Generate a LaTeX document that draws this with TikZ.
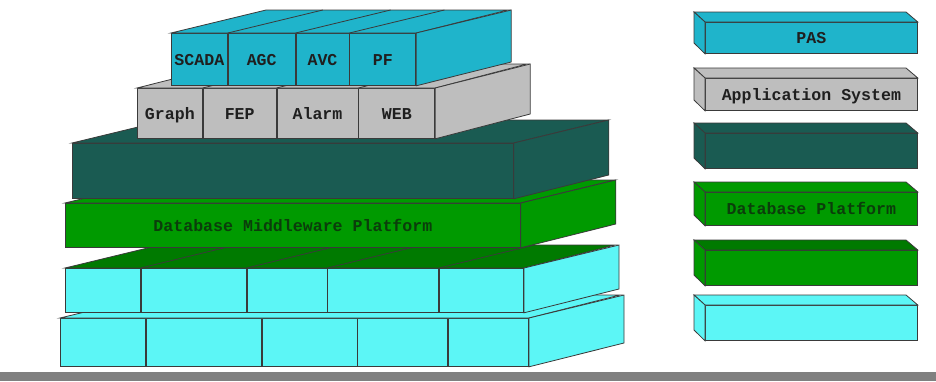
\documentclass[tikz,border=0pt]{standalone}
\usepackage{fontspec}
\setmonofont{Liberation Mono}
\definecolor{appcyan}{HTML}{1FB4CB}
\definecolor{basegray}{HTML}{BEBEBE}
\definecolor{svcdark}{HTML}{1A5B52}
\definecolor{dbgreen}{HTML}{009A00}
\definecolor{dbdark}{HTML}{007A00}
\definecolor{lowcyan}{HTML}{5CF6F6}
\definecolor{edgegray}{HTML}{3A3A3A}
\definecolor{stripgray}{HTML}{808080}
\definecolor{dbtext}{HTML}{0B3D0B}
\tikzset{
  face/.style={draw=edgegray, line width=0.4pt},
  frontbox/.style={face, anchor=north west, inner sep=0pt,
    text height=6.6pt, text depth=0.6pt,
    font=\ttfamily\bfseries\fontsize{8.3}{10}\selectfont, text=black!88},
  edge/.style={draw=edgegray, line width=0.4pt}
}
\begin{document}
\begin{tikzpicture}[x=0.5pt, y=-0.5pt]
                \useasboundingbox (0,0) rectangle (936,381);
                \fill[stripgray] (0,372) rectangle (936,381);

                % lowest row
                \node[frontbox, fill=lowcyan, minimum width=42.5pt, minimum height=24pt] (lowb1) at (60,318) {};
                \node[frontbox, fill=lowcyan, minimum width=57.5pt, minimum height=24pt] (lowb2) at (lowb1.north east) {};
                \node[frontbox, fill=lowcyan, minimum width=47.5pt, minimum height=24pt] (lowb3) at (lowb2.north east) {};
                \node[frontbox, fill=lowcyan, minimum width=45pt, minimum height=24pt] (lowb4) at (lowb3.north east) {};
                \node[frontbox, fill=lowcyan, minimum width=40pt, minimum height=24pt] (lowb5) at (lowb4.north east) {};
                \draw[face, fill=lowcyan] (lowb1.north west) -- ++(95,-23) -- ++(465,0) -- (lowb5.north east) -- cycle;
                \draw[face, fill=lowcyan] (lowb5.north east) -- ++(95,-23) -- ++(0,48) -- (lowb5.south east) -- cycle;

                \node[frontbox, fill=lowcyan, minimum width=37.5pt, minimum height=22pt] (lowa1) at (65,268) {};
                \node[frontbox, fill=lowcyan, minimum width=52.5pt, minimum height=22pt] (lowa2) at (lowa1.north east) {};
                \node[frontbox, fill=lowcyan, minimum width=40pt, minimum height=22pt] (lowa3) at (lowa2.north east) {};
                \node[frontbox, fill=lowcyan, minimum width=55.5pt, minimum height=22pt] (lowa4) at (lowa3.north east) {};
                \node[frontbox, fill=lowcyan, minimum width=42pt, minimum height=22pt] (lowa5) at (lowa4.north east) {};
                \draw[face, fill=dbdark] (lowa1.north west) -- ++(95,-23) -- ++(455,0) -- (lowa5.north east) -- cycle;
                \draw[face, fill=lowcyan] (lowa5.north east) -- ++(95,-23) -- ++(0,44) -- (lowa5.south east) -- cycle;
                \foreach \n in {lowa2,lowa3,lowa4,lowa5}
                    \draw[edge] (\n.north west) -- ++(95,-23);

                % database middleware
                \node[frontbox, fill=dbgreen, text=dbtext, minimum width=227.5pt, minimum height=22pt] (dmp) at (65,203) {Database Middleware Platform};
                \draw[face, fill=dbgreen] (dmp.north west) -- ++(95,-23) -- ++(455,0) -- (dmp.north east) -- cycle;
                \draw[face, fill=dbgreen] (dmp.north east) -- ++(95,-23) -- ++(0,44) -- (dmp.south east) -- cycle;

                \node[frontbox, fill=svcdark, minimum width=220.5pt, minimum height=27.5pt] (svc) at (72,143) {};
                \draw[face, fill=svcdark] (svc.north west) -- ++(95,-23) -- ++(441,0) -- (svc.north east) -- cycle;
                \draw[face, fill=svcdark] (svc.north east) -- ++(95,-23) -- ++(0,55) -- (svc.south east) -- cycle;

                % gray row
                \node[frontbox, fill=basegray, minimum width=32.5pt, minimum height=25pt] (graph) at (137,88) {Graph};
                \node[frontbox, fill=basegray, minimum width=36.5pt, minimum height=25pt] (fep) at (graph.north east) {FEP};
                \node[frontbox, fill=basegray, minimum width=40.5pt, minimum height=25pt] (alarm) at (fep.north east) {Alarm};
                \node[frontbox, fill=basegray, minimum width=38pt, minimum height=25pt] (web) at (alarm.north east) {WEB};
                \draw[face, fill=basegray] (graph.north west) -- ++(95,-24) -- ++(295,0) -- (web.north east) -- cycle;
                \draw[face, fill=basegray] (web.north east) -- ++(95,-24) -- ++(0,50) -- (web.south east) -- cycle;
                \foreach \n in {fep,alarm,web}
                    \draw[edge] (\n.north west) -- ++(95,-24);

                % cyan row
                \node[frontbox, fill=appcyan, minimum width=28pt, minimum height=26pt] (scada) at (171,33) {SCADA};
                \node[frontbox, fill=appcyan, minimum width=33.5pt, minimum height=26pt] (agc) at (scada.north east) {AGC};
                \node[frontbox, fill=appcyan, minimum width=26.5pt, minimum height=26pt] (avc) at (agc.north east) {AVC};
                \node[frontbox, fill=appcyan, minimum width=33pt, minimum height=26pt] (pf) at (avc.north east) {PF};
                \draw[face, fill=appcyan] (scada.north west) -- ++(95,-23) -- ++(242,0) -- (pf.north east) -- cycle;
                \draw[face, fill=appcyan] (pf.north east) -- ++(95,-23) -- ++(0,52) -- (pf.south east) -- cycle;
                \foreach \n in {agc,avc,pf}
                    \draw[edge] (\n.north west) -- ++(95,-23);

                % right column
                \node[frontbox, fill=appcyan, minimum width=106pt, minimum height=15.5pt] (pas) at (705,22) {PAS};
                \node[frontbox, fill=basegray, minimum width=106pt, minimum height=16pt] (apps) at (705,78) {Application System};
                \node[frontbox, fill=svcdark, minimum width=106pt, minimum height=17.5pt] (svcr) at (705,133) {};
                \node[frontbox, fill=dbgreen, text=dbtext, minimum width=106pt, minimum height=16.5pt] (dbp) at (705,192) {Database Platform};
                \node[frontbox, fill=dbgreen, minimum width=106pt, minimum height=17.5pt] (lowr1) at (705,250) {};
                \node[frontbox, fill=lowcyan, minimum width=106pt, minimum height=17.5pt] (lowr2) at (705,305) {};
                \draw[face, fill=appcyan] (pas.north west) -- ++(-11,-10) -- ++(212,0) -- (pas.north east) -- cycle;
                \draw[face, fill=appcyan] (pas.north west) -- ++(-11,-10) -- ++(0,31) -- (pas.south west) -- cycle;
                \draw[face, fill=basegray] (apps.north west) -- ++(-11,-10) -- ++(212,0) -- (apps.north east) -- cycle;
                \draw[face, fill=basegray] (apps.north west) -- ++(-11,-10) -- ++(0,32) -- (apps.south west) -- cycle;
                \draw[face, fill=svcdark] (svcr.north west) -- ++(-11,-10) -- ++(212,0) -- (svcr.north east) -- cycle;
                \draw[face, fill=svcdark] (svcr.north west) -- ++(-11,-10) -- ++(0,35) -- (svcr.south west) -- cycle;
                \draw[face, fill=dbgreen] (dbp.north west) -- ++(-11,-10) -- ++(212,0) -- (dbp.north east) -- cycle;
                \draw[face, fill=dbgreen] (dbp.north west) -- ++(-11,-10) -- ++(0,33) -- (dbp.south west) -- cycle;
                \draw[face, fill=dbdark] (lowr1.north west) -- ++(-11,-10) -- ++(212,0) -- (lowr1.north east) -- cycle;
                \draw[face, fill=dbgreen] (lowr1.north west) -- ++(-11,-10) -- ++(0,35) -- (lowr1.south west) -- cycle;
                \draw[face, fill=lowcyan] (lowr2.north west) -- ++(-11,-10) -- ++(212,0) -- (lowr2.north east) -- cycle;
                \draw[face, fill=lowcyan] (lowr2.north west) -- ++(-11,-10) -- ++(0,35) -- (lowr2.south west) -- cycle;
\end{tikzpicture}
\end{document}
